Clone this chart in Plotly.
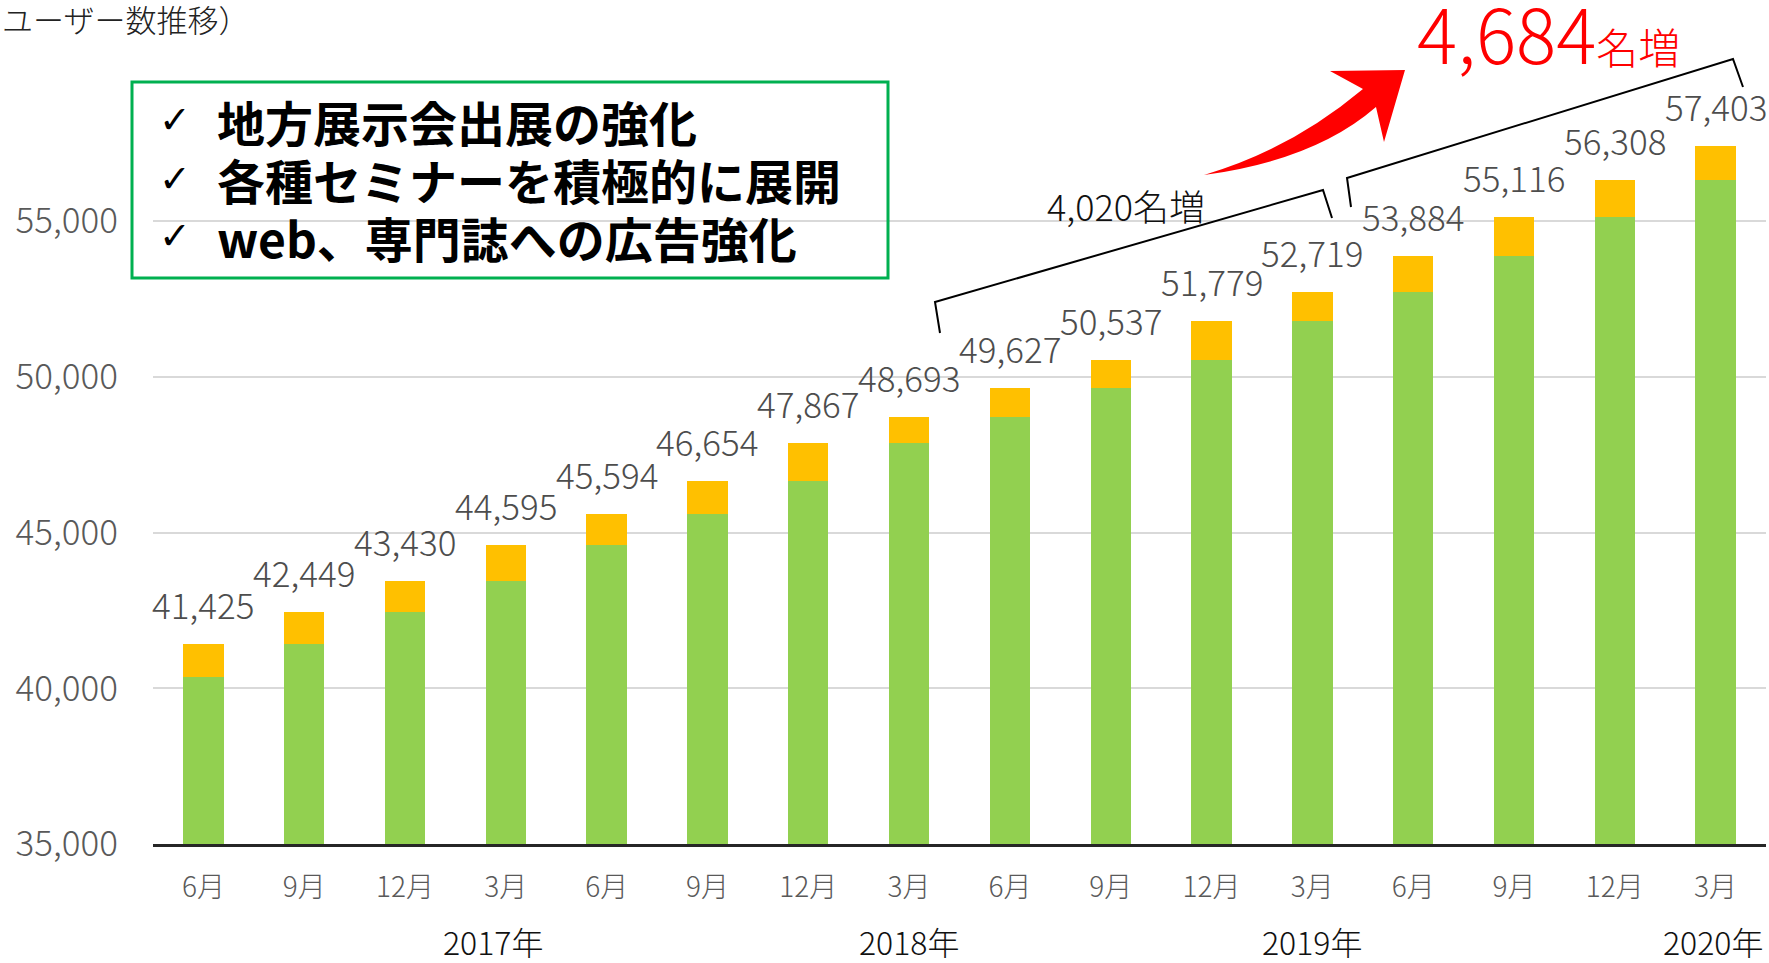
import plotly.graph_objects as go

# ---- data ----
months = ["6月", "9月", "12月", "3月", "6月", "9月", "12月", "3月",
          "6月", "9月", "12月", "3月", "6月", "9月", "12月", "3月"]
totals = [41425, 42449, 43430, 44595, 45594, 46654, 47867, 48693,
          49627, 50537, 51779, 52719, 53884, 55116, 56308, 57403]
# green part = users at the previous quarter end
base = [40370, 41425, 42449, 43430, 44595, 45594, 46654, 47867,
        48693, 49627, 50537, 51779, 52719, 53884, 55116, 56308]
years = ["2017年", "2018年", "2019年", "2020年"]
year_at = [3, 7, 11, 15]          # category index under which each year label sits
gain_2018 = 4020
gain_2019 = 4684
y_ticks = [35000, 40000, 45000, 50000, 55000]
measures = ["地方展示会出展の強化", "各種セミナーを積極的に展開", "web、専門誌への広告強化"]
title_text = "ユーザー数推移）"

increment = [t - b for t, b in zip(totals, base)]
x = list(range(len(months)))

# ---- layout helpers (pixel -> paper) ----
W, H = 1769, 963
PL, PR, PT, PB = 153, 1766, 3, 844
def xp(px): return (px - PL) / (PR - PL)
def yp(py): return (PB - py) / (PB - PT)

FONT = "Noto Sans CJK JP, Noto Sans, sans-serif"
GRAY = "#595959"

fig = go.Figure()
fig.add_bar(x=x, y=base, marker=dict(color="#92D050", line=dict(width=0)),
            hoverinfo="skip", showlegend=False)
fig.add_bar(x=x, y=increment, marker=dict(color="#FFC000", line=dict(width=0)),
            hoverinfo="skip", showlegend=False)

ann = []
# value labels above bars
for i, t in enumerate(totals):
    ann.append(dict(x=i, y=t, xref="x", yref="y", text=f"{t:,}", showarrow=False,
                    yanchor="bottom", xanchor="center", yshift=13,
                    font=dict(family=FONT, size=35, color="#4d4d4d", weight=300)))
# year labels
for yl, idx in zip(years, year_at):
    ann.append(dict(x=idx, y=yp(941), xref="x", yref="paper", text=yl, showarrow=False,
                    xanchor="center", yanchor="middle",
                    xshift=-13 if idx == year_at[0] else (-3 if idx == year_at[-1] else 0),
                    font=dict(family=FONT, size=32, color="#111111", weight=300)))
# top-left title fragment
ann.append(dict(x=0, y=yp(19), xref="paper", yref="paper", text=title_text,
                showarrow=False, xanchor="left", yanchor="middle",
                xshift=-PL,
                font=dict(family=FONT, size=31, color="#222222", weight=300)))
# box text
line_y = [121, 179.5, 237]
for m, ly in zip(measures, line_y):
    ann.append(dict(x=xp(175), y=yp(ly - 1), xref="paper", yref="paper", text="✓",
                    showarrow=False, xanchor="center", yanchor="middle",
                    font=dict(family="DejaVu Sans", size=38, color="#000000")))
    ann.append(dict(x=xp(215), y=yp(ly), xref="paper", yref="paper", text=f"<b>{m}</b>",
                    showarrow=False, xanchor="left", yanchor="middle",
                    font=dict(family=FONT, size=48, color="#000000")))
# bracket labels
ann.append(dict(x=xp(1126), y=yp(205), xref="paper", yref="paper",
                text=f"{gain_2018:,}名増", showarrow=False, xanchor="center", yanchor="middle",
                font=dict(family=FONT, size=36, color="#111111", weight=300)))
ann.append(dict(x=xp(1548), y=yp(31), xref="paper", yref="paper",
                text=f"{gain_2019:,}<span style='font-size:42px'>名増</span>", showarrow=False,
                xanchor="center", yanchor="middle",
                font=dict(family=FONT, size=75, color="#FF0000", weight=300)))

def path(pts, close=False):
    s = "M " + " L ".join(f"{xp(a):.5f},{yp(b):.5f}" for a, b in pts)
    return s + (" Z" if close else "")

shapes = []
# green box
shapes.append(dict(type="rect", xref="paper", yref="paper",
                   x0=xp(132), x1=xp(888), y0=yp(82), y1=yp(278),
                   line=dict(color="#00B050", width=3), fillcolor="rgba(0,0,0,0)"))
# brackets
shapes.append(dict(type="path", xref="paper", yref="paper",
                   path=path([(940, 333), (935, 302), (1323, 190), (1332, 218)]),
                   line=dict(color="#000000", width=2)))
shapes.append(dict(type="path", xref="paper", yref="paper",
                   path=path([(1351, 207), (1347, 178), (1733, 59), (1743, 87)]),
                   line=dict(color="#000000", width=2)))
# red curved arrow
T, U, A, P, C, L = (1204, 175), (1363, 89), (1330, 71), (1405, 70), (1384, 142), (1376, 107)
cu, cl = (1290, 150), (1315, 160)
arrow = (f"M {xp(T[0]):.5f},{yp(T[1]):.5f} "
         f"Q {xp(cu[0]):.5f},{yp(cu[1]):.5f} {xp(U[0]):.5f},{yp(U[1]):.5f} "
         f"L {xp(A[0]):.5f},{yp(A[1]):.5f} L {xp(P[0]):.5f},{yp(P[1]):.5f} "
         f"L {xp(C[0]):.5f},{yp(C[1]):.5f} L {xp(L[0]):.5f},{yp(L[1]):.5f} "
         f"Q {xp(cl[0]):.5f},{yp(cl[1]):.5f} {xp(T[0]):.5f},{yp(T[1]):.5f} Z")
shapes.append(dict(type="path", xref="paper", yref="paper", path=arrow,
                   fillcolor="#FF0000", line=dict(width=0)))

fig.update_layout(
    width=W, height=H,
    margin=dict(l=PL, r=W - PR, t=PT, b=H - PB),
    paper_bgcolor="white", plot_bgcolor="rgba(0,0,0,0)",
    barmode="stack", bargap=0.6,
    annotations=ann, shapes=shapes,
    xaxis=dict(tickvals=x, ticktext=months, range=[-0.5, len(months) - 0.5],
               showgrid=False, zeroline=False, ticks="",
               showline=True, linecolor="#262626", linewidth=2.5,
               ticklabelstandoff=17,
               tickfont=dict(family=FONT, size=28, color=GRAY, weight=300)),
    yaxis=dict(range=[35000, 62000], tickvals=y_ticks, tickformat=",",
               showgrid=True, gridcolor="#D9D9D9", gridwidth=2, zeroline=False,
               showline=False, ticks="", ticklabelstandoff=34,
               tickfont=dict(family=FONT, size=35, color=GRAY, weight=300)),
    font=dict(family=FONT),
)

fig.write_html("out.html", config={"displayModeBar": False},
               post_script="document.body.style.margin='0';document.body.style.overflow='hidden';")
